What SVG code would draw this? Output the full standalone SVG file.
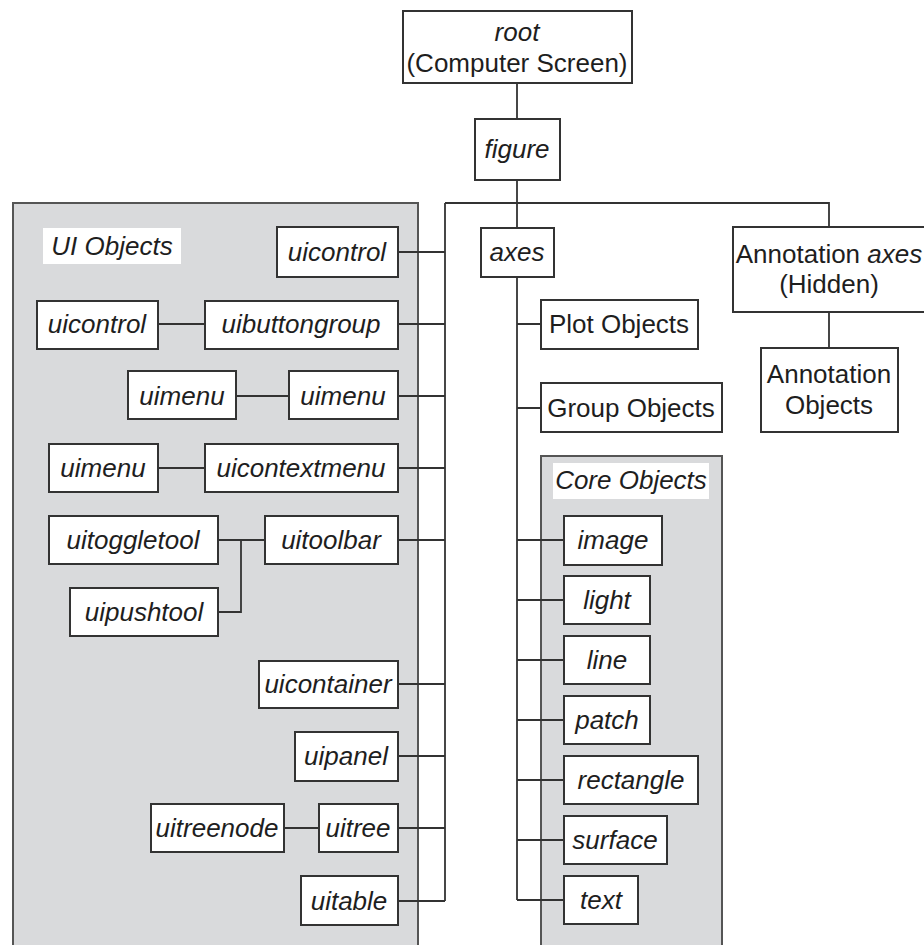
<svg xmlns="http://www.w3.org/2000/svg" width="924" height="945" viewBox="0 0 924 945">
<style>
.panel{fill:#d9dadc;stroke:#555;stroke-width:2}
.label{fill:#fff;stroke:none}
.box{fill:#fff;stroke:#333;stroke-width:2}
.c{fill:none;stroke:#333;stroke-width:1.8}
text{font-family:"Liberation Sans",Arial,sans-serif;font-size:26px;fill:#1e1e1e;text-anchor:middle}
.i{font-style:italic}
</style>
<rect width="924" height="945" fill="#fff"/>
<g id="ui-objects-panel">
<rect class="panel" x="13" y="203" width="405" height="750"/>
<rect class="label" x="43" y="228" width="138" height="36"/>
<text class="i" x="112" y="255">UI Objects</text>
</g>
<g id="core-objects-panel">
<rect class="panel" x="541" y="456" width="181" height="500"/>
<rect class="label" x="553" y="463" width="156" height="36"/>
<text class="i" x="631" y="489">Core Objects</text>
</g>
<g id="connectors">
<path class="c" d="M517 83V119M517 180V228M445 203H829V227M445 203V901M829 312V348"/>
<path class="c" d="M398 252H445M398 324H445M398 396H445M398 468H445M398 540H445M398 684H445M398 756H445M398 828H445M398 901H445"/>
<path class="c" d="M158 324H205M236 396H289M158 468H205M218 540H265M241 540V612H218M284 828H319"/>
<path class="c" d="M517 277V900M517 324H541M517 408H541M517 540H564M517 600H564M517 660H564M517 720H564M517 780H564M517 840H564M517 900H564"/>
</g>
<g id="root"><rect class="box" x="403" y="11" width="229" height="72"/><text class="i" x="517" y="41">root</text><text x="517" y="72">(Computer Screen)</text></g>
<g id="figure"><rect class="box" x="475" y="119" width="85" height="61"/><text class="i" x="517" y="158">figure</text></g>
<g id="axes"><rect class="box" x="481" y="228" width="73" height="49"/><text class="i" x="517" y="261">axes</text></g>
<g id="annotation-axes"><rect class="box" x="733" y="227" width="193" height="85"/><text x="829" y="263">Annotation <tspan class="i">axes</tspan></text><text x="829" y="293">(Hidden)</text></g>
<g id="annotation-objects"><rect class="box" x="761" y="348" width="137" height="84"/><text x="829" y="383">Annotation</text><text x="829" y="414">Objects</text></g>
<g id="plot-objects"><rect class="box" x="541" y="300" width="157" height="49"/><text x="619" y="333">Plot Objects</text></g>
<g id="group-objects"><rect class="box" x="541" y="383" width="181" height="49"/><text x="631" y="417">Group Objects</text></g>
<g id="uicontrol-1"><rect class="box" x="277" y="227" width="121" height="50"/><text class="i" x="337" y="261">uicontrol</text></g>
<g id="uicontrol-2"><rect class="box" x="37" y="301" width="121" height="48"/><text class="i" x="97" y="333">uicontrol</text></g>
<g id="uibuttongroup"><rect class="box" x="205" y="301" width="193" height="48"/><text class="i" x="301" y="333">uibuttongroup</text></g>
<g id="uimenu-1"><rect class="box" x="128" y="371" width="108" height="48"/><text class="i" x="182" y="405">uimenu</text></g>
<g id="uimenu-2"><rect class="box" x="289" y="371" width="109" height="48"/><text class="i" x="343" y="405">uimenu</text></g>
<g id="uimenu-3"><rect class="box" x="49" y="444" width="109" height="48"/><text class="i" x="103" y="477">uimenu</text></g>
<g id="uicontextmenu"><rect class="box" x="205" y="444" width="193" height="48"/><text class="i" x="301" y="477">uicontextmenu</text></g>
<g id="uitoggletool"><rect class="box" x="49" y="516" width="169" height="48"/><text class="i" x="133" y="549">uitoggletool</text></g>
<g id="uitoolbar"><rect class="box" x="265" y="516" width="133" height="48"/><text class="i" x="331" y="549">uitoolbar</text></g>
<g id="uipushtool"><rect class="box" x="70" y="588" width="148" height="48"/><text class="i" x="144" y="621">uipushtool</text></g>
<g id="uicontainer"><rect class="box" x="259" y="661" width="139" height="47"/><text class="i" x="328" y="693">uicontainer</text></g>
<g id="uipanel"><rect class="box" x="295" y="732" width="103" height="49"/><text class="i" x="346" y="765">uipanel</text></g>
<g id="uitreenode"><rect class="box" x="151" y="804" width="133" height="48"/><text class="i" x="217" y="837">uitreenode</text></g>
<g id="uitree"><rect class="box" x="319" y="804" width="79" height="48"/><text class="i" x="358" y="837">uitree</text></g>
<g id="uitable"><rect class="box" x="301" y="876" width="97" height="49"/><text class="i" x="349" y="910">uitable</text></g>
<g id="image"><rect class="box" x="564" y="516" width="98" height="49"/><text class="i" x="613" y="549">image</text></g>
<g id="light"><rect class="box" x="564" y="576" width="86" height="48"/><text class="i" x="607" y="609">light</text></g>
<g id="line"><rect class="box" x="564" y="636" width="86" height="48"/><text class="i" x="607" y="669">line</text></g>
<g id="patch"><rect class="box" x="564" y="696" width="86" height="48"/><text class="i" x="607" y="729">patch</text></g>
<g id="rectangle"><rect class="box" x="564" y="756" width="134" height="48"/><text class="i" x="631" y="789">rectangle</text></g>
<g id="surface"><rect class="box" x="564" y="816" width="103" height="48"/><text class="i" x="615" y="849">surface</text></g>
<g id="text"><rect class="box" x="564" y="876" width="74" height="48"/><text class="i" x="601" y="909">text</text></g>
</svg>
